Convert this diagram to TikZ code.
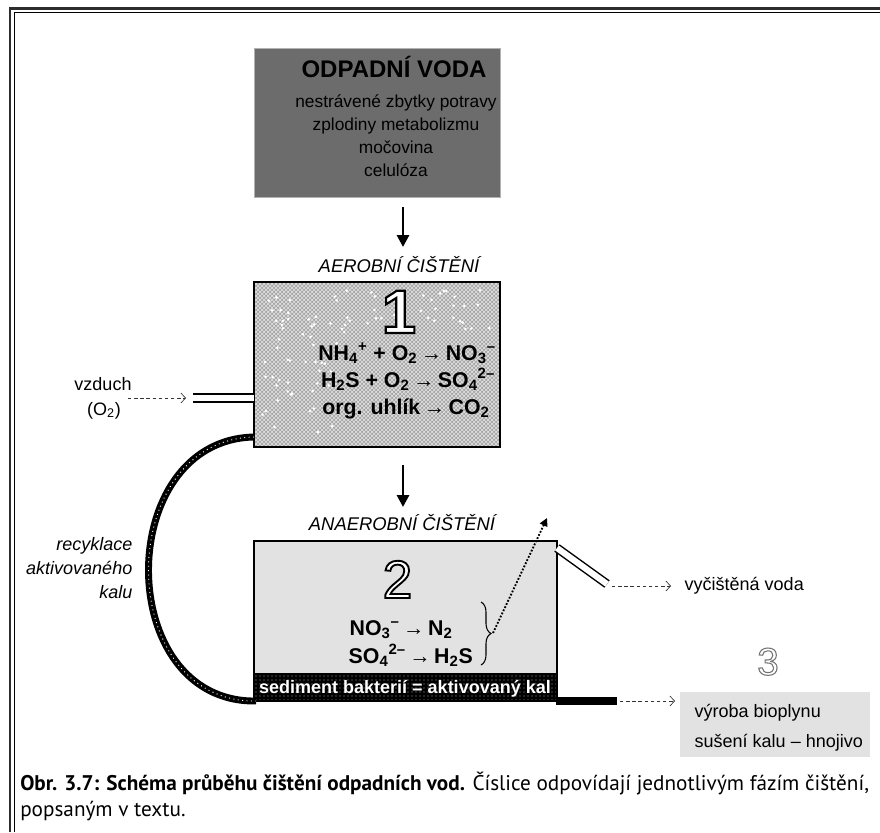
\documentclass[tikz,border=0pt]{standalone}
\usepackage{fontspec}
\setmainfont{Liberation Sans}
\newfontfamily\capfont{PT Sans}
\usetikzlibrary{calc,arrows.meta,patterns,decorations.pathreplacing}
\definecolor{wastegray}{RGB}{108,108,108}
\definecolor{aergray}{RGB}{165,165,165}
\definecolor{tankgray}{RGB}{226,226,226}
\definecolor{framegray}{RGB}{45,45,45}

\tikzset{
  tank/.style={draw=black, line width=0.9pt, inner sep=0pt},
  flow/.style={line width=2.2pt, -{Triangle[length=9pt,width=9pt]}},
  gasflow/.style={draw=black!80, line width=0.5pt, dash pattern=on 2.6pt off 2pt,
    -{Straight Barb[length=3.5pt,width=7.5pt]}},
  pipe/.style={line width=1.1pt, double=white, double distance=4.6pt},
  label/.style={font=\fontsize{13.5}{16}\selectfont, anchor=base},
  phase/.style={font=\fontsize{13.8}{16}\selectfont\itshape, anchor=base},
  eqn/.style={font=\fontsize{16}{18}\selectfont\bfseries, anchor=base},
  digit/.style={text=white, anchor=base, inner sep=0pt},
}
% glyphs filled white and stroked (text render mode 2)
\newcommand{\hollow}[3]{%
  \special{pdf:literal direct 2 Tr #1 w #2 G}#3\special{pdf:literal direct 0 Tr}}
\newcommand{\arr}{{\mdseries\,→\,}}

\begin{document}
\begin{tikzpicture}[x=0.75pt,y=-0.75pt]
\useasboundingbox (0,0) rectangle (880,832);

% frame
\draw[framegray, line width=2.2pt] (10,832) -- (10,8.5) -- (880,8.5);
\draw[black, line width=0.75pt] (14.5,832) -- (14.5,12.5) -- (880,12.5);

% waste water
\node[tank, fill=wastegray, draw=gray!60, line width=0.5pt,
  minimum width=184.5pt, minimum height=111.75pt] (waste) at (377,122.5) {};
\node[font=\fontsize{18}{20}\selectfont\bfseries, anchor=base] (wastetitle) at (394,77) {ODPADNÍ VODA};
\foreach \t [count=\i] in {nestrávené zbytky potravy, zplodiny metabolizmu, močovina, celulóza}
  \node[font=\fontsize{13}{15}\selectfont, anchor=base] (w\i) at (396,84+23*\i) {\t};

\coordinate (f1s) at (403,207);
\coordinate (f1e) at (403,247);
\draw[flow] (f1s) -- (f1e);

% aerobic stage
\node[phase] (aerlabel) at (399,272) {AEROBNÍ ČIŠTĚNÍ};
\node[tank, preaction={fill=aergray}, pattern=crosshatch, pattern color=white!80!gray,
  minimum width=184.5pt, minimum height=123.75pt] (aer) at (377,364.5) {};
\pgfmathsetseed{11}
\foreach \i in {1,...,55} {
  \pgfmathsetmacro\dx{262+rnd*85}
  \pgfmathsetmacro\dy{290+rnd*150}
  \fill[white] (\dx,\dy) circle (1.1pt);
}
\foreach \i in {1,...,35} {
  \pgfmathsetmacro\dx{345+rnd*148}
  \pgfmathsetmacro\dy{290+rnd*40}
  \fill[white] (\dx,\dy) circle (1.1pt);
}
\node[digit, font=\fontsize{46}{46}\selectfont\bfseries] (d1) at (399,333) {\hollow{1.6}{0}{1}};
\node[eqn] (e1) at (407,360) {NH\textsubscript{4}\textsuperscript{+} + O\textsubscript{2}\arr NO\textsubscript{3}\textsuperscript{–}};
\node[eqn] (e2) at (408,387) {H\textsubscript{2}S + O\textsubscript{2}\arr SO\textsubscript{4}\textsuperscript{2–}};
\node[eqn] (e3) at (406,414) {org. uhlík\arr CO\textsubscript{2}};

% air inlet
\node[label] (air) at (103,390) {vzduch};
\node[label] (airo) at (104,415) {(O\textsubscript{2})};
\coordinate (airs) at (128,398);
\coordinate (aire) at (186,398);
\coordinate (pipein) at (193,398);
\coordinate (pipeout) at (254,398);
\draw[gasflow] (airs) -- (aire);
\draw[pipe] (pipein) -- (pipeout);

\coordinate (f2s) at (403,465);
\coordinate (f2e) at (403,507);
\draw[flow] (f2s) -- (f2e);

% anaerobic stage
\node[phase] (anaerlabel) at (402,530) {ANAEROBNÍ ČIŠTĚNÍ};
\node[tank, fill=tankgray, minimum width=227.25pt, minimum height=99.75pt] (anaer) at (405.5,607.5) {};
\node[tank, preaction={fill=black}, pattern=dots, pattern color=gray!75,
  minimum width=227.25pt, minimum height=20.25pt] (sed) at (405.5,687.5) {};
\node[font=\fontsize{13.5}{16}\selectfont\bfseries, text=white, anchor=base] (sedtext) at (405,693)
  {sediment bakterií = aktivovaný kal};
\node[digit, font=\fontsize{40}{40}\selectfont] (d2) at (397.5,598) {\hollow{1.4}{0}{2}};
\node[eqn, anchor=base west] (e4) at (345,635) {NO\textsubscript{3}\textsuperscript{–}\arr N\textsubscript{2}};
\node[eqn, anchor=base west] (e5) at (344,663) {SO\textsubscript{4}\textsuperscript{2–}\arr H\textsubscript{2}S};
\coordinate (brtop) at (481,602);
\coordinate (brbot) at (481,665);
\coordinate (brtip) at (493,633);
\coordinate (gasout) at (547,518);
\draw[line width=0.8pt, decorate, decoration={brace, amplitude=7.5pt}] (brtop) -- (brbot);
\draw[line width=1.4pt, dash pattern=on 1.3pt off 1.3pt, -{Triangle[length=6pt,width=6pt]}] (brtip) -- (gasout);

% clean water outlet
\coordinate (outs) at (557,548);
\coordinate (oute) at (607,584);
\draw[pipe] (outs) -- (oute);
\coordinate (ws) at (612,586);
\coordinate (we) at (671,586);
\draw[gasflow] (ws) -- (we);
\node[label, anchor=base west] (water) at (680,590) {vyčištěná voda};

% recycled sludge
\coordinate (rcs) at (254,437);
\coordinate (rce) at (256,701);
\draw[line width=5.2pt] (rcs) .. controls (113,440) and (113,703) .. (rce);
\draw[white, line width=0.7pt, dash pattern=on 0.7pt off 2.6pt] (rcs) .. controls (113,440) and (113,703) .. (rce);
\node[label, font=\fontsize{13.5}{16}\selectfont\itshape, anchor=base east] (rc1) at (137,550) {recyklace};
\node[label, font=\fontsize{13.5}{16}\selectfont\itshape, anchor=base east] (rc2) at (137,574) {aktivovaného};
\node[label, font=\fontsize{13.5}{16}\selectfont\itshape, anchor=base east] (rc3) at (137,598) {kalu};

% sludge outlet
\coordinate (bars) at (556,701);
\coordinate (bare) at (617,701);
\draw[line width=5.5pt] (bars) -- (bare);
\coordinate (ss) at (620,701);
\coordinate (se) at (675,701);
\draw[gasflow] (ss) -- (se);
\node[fill=tankgray, inner sep=0pt, minimum width=142.5pt, minimum height=48.75pt] (sludge) at (775,724.5) {};
\node[digit, font=\fontsize{29}{29}\selectfont] (d3) at (768,675) {\hollow{0.8}{0.45}{3}};
\node[label, anchor=base west] (s1) at (690,717) {výroba bioplynu};
\node[label, anchor=base west] (s2) at (690,747) {sušení kalu – hnojivo};

% caption
\node[font=\capfont\fontsize{15.9}{18}\selectfont, anchor=base west, inner sep=0pt] (cap1) at (20,790)
  {\textbf{Obr. 3.7: Schéma průběhu čištění odpadních vod.} Číslice odpovídají jednotlivým fázím čištění,};
\node[font=\capfont\fontsize{15.9}{18}\selectfont, anchor=base west, inner sep=0pt] (cap2) at (20,816)
  {popsaným v textu.};
\end{tikzpicture}
\end{document}
